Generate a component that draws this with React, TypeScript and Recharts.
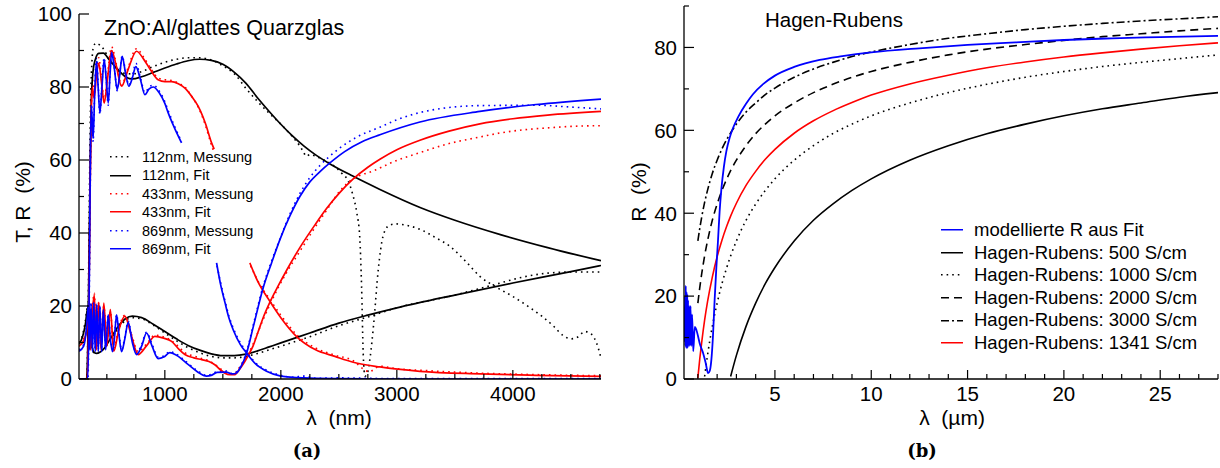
import React from 'react'
import { LineChart, Line, XAxis, YAxis } from 'recharts'

/* ─── Panel (a): T and R of ZnO:Al films, λ in nm ─── */

type Pt = [number, number]

const t112Fit: Pt[] = [[260,0],[325,0],[335,8],[345,30],[355,55],[365,75],[380,84],[400,87.5],[430,89.2],[470,89.3],[520,87.5],[600,84.6],[670,82.6],[720,82.2],[800,82.8],[900,84],[1000,85.2],[1100,86.3],[1200,87.2],[1300,87.6],[1400,87.3],[1500,86.2],[1600,84],[1700,81],[1800,77],[1900,73.3],[2000,69.8],[2100,66.6],[2200,63.8],[2300,61.4],[2420,59],[2620,55.6],[2850,52],[3200,47],[3500,43.5],[3900,39.5],[4300,36],[4760,32.4]]
const t112Meas: Pt[] = [[260,0],[325,0],[338,15],[348,45],[358,72],[370,86],[385,91],[405,92],[440,91.5],[470,90.5],[520,87.5],[580,84.8],[640,83.8],[720,83.6],[800,84.2],[900,85.6],[1000,86.8],[1100,87.6],[1200,88],[1300,88],[1400,87.4],[1500,85.8],[1600,83.6],[1700,79.6],[1800,76],[1900,72.8],[2000,69.8],[2100,66.4],[2160,64],[2190,62.5],[2220,61],[2250,61.5],[2290,61.2],[2350,60.3],[2420,59.2],[2480,57.8],[2530,56.2],[2580,54.3],[2620,50.5],[2655,45.5],[2680,39],[2696,25.4],[2710,7.1],[2725,0.8],[2745,1.5],[2770,6],[2800,15],[2840,30],[2880,39],[2930,42],[2985,42.5],[3100,42],[3200,41],[3330,38.8],[3460,36.3],[3600,32],[3716,28.1],[3850,25.3],[4000,22.6],[4150,19.5],[4250,17.2],[4350,14.5],[4430,12],[4500,11],[4560,11.5],[4620,13],[4680,12.2],[4720,10],[4760,5.8]]
const r112Fit: Pt[] = [[260,9.5],[290,11.5],[315,15],[335,19.5],[350,17],[365,11],[385,7.5],[410,7],[440,7.3],[480,8.5],[530,11],[600,14.5],[660,16.5],[720,17.2],[800,16.8],[900,15],[1000,13],[1100,11],[1200,9.2],[1300,7.9],[1400,6.9],[1500,6.4],[1600,6.4],[1700,6.8],[1800,7.7],[1900,8.8],[2000,9.9],[2250,12.6],[2500,15.3],[2750,17.5],[3000,19.5],[3500,23],[4000,26.3],[4500,29.4],[4760,31.1]]
const r112Meas: Pt[] = [[260,10],[290,12],[315,16],[335,20],[350,16],[365,10.5],[385,7.3],[410,7],[440,7.5],[480,8.5],[530,10.8],[600,14],[660,16],[720,16.8],[800,16.5],[900,14.8],[1000,12.6],[1100,10.5],[1200,8.6],[1300,7.2],[1400,6.2],[1500,5.8],[1600,5.8],[1700,6.2],[1800,7],[1900,8],[2000,9],[2250,11.6],[2500,14.6],[2750,17],[3000,19.5],[3500,23],[3800,25.5],[4100,28],[4300,29],[4500,29.3],[4760,29.3]]

const t433Fit: Pt[] = [[260,0],[330,0],[345,20],[355,50],[365,72],[375,80],[390,77],[410,83],[430,86.5],[455,81],[477,75.6],[505,82],[541,90],[580,86],[627,80.2],[680,84.5],[756,89.8],[820,87.5],[880,84.5],[942,82],[1000,81.5],[1058,81.5],[1120,80.8],[1173,79.7],[1230,77.5],[1288,74.7],[1350,70],[1403,64.7],[1425,63]]
const t433Meas: Pt[] = [[260,0],[332,0],[346,22],[356,52],[366,74],[376,82],[390,78],[410,84],[430,88],[455,82],[477,76],[505,83],[541,91],[580,86.5],[627,80.5],[680,85],[756,90.5],[820,88],[880,85],[942,82.5],[1000,82],[1058,81.8],[1120,81],[1173,80],[1230,77.5],[1288,74.5],[1350,69.5],[1403,64],[1425,62]]
const t433FitB: Pt[] = [[1733,31.8],[1800,26.8],[1905,21.3],[2000,16.8],[2140,11.5],[2300,8],[2466,6.2],[2624,4.6],[2854,3.3],[3199,2.1],[3716,1.4],[4200,1],[4760,0.7]]
const t433MeasB: Pt[] = [[1740,31],[1800,27],[1905,21.8],[2000,17.5],[2140,12],[2300,8.5],[2466,6.5],[2624,5],[2700,3],[2760,2],[2854,3.5],[3000,2.8],[3199,2.4],[3716,1.6],[4200,1.2],[4760,0.9]]
const r433Fit: Pt[] = [[260,9],[300,10.5],[330,14],[345,20],[360,8],[375,18],[392,23],[410,8],[430,21],[450,8],[474,20.8],[500,9],[530,19],[560,7.6],[600,13],[655,17.2],[710,12],[770,6.7],[840,9],[914,11.7],[990,11.2],[1058,10.3],[1120,8.2],[1173,6.7],[1250,5.8],[1317,5.3],[1380,4.8],[1431,3.9],[1480,2.5],[1518,1.6],[1560,1.2],[1604,1.2],[1640,2.5],[1680,4.3],[1719,6.5],[1760,9],[1805,13],[1850,17],[1905,21],[1977,25.5],[2050,29.8],[2164,36],[2300,42.5],[2394,46.7],[2500,50.8],[2624,54.8],[2750,58],[2854,60.2],[3000,62.8],[3199,65.4],[3450,67.9],[3716,69.9],[4000,71.3],[4300,72.3],[4760,73.3]]
const r433Meas: Pt[] = [[260,10],[300,11],[330,15],[345,21],[360,9],[375,19],[392,23.5],[410,9],[430,21],[450,9],[474,20],[500,10],[530,18.5],[560,8.5],[600,13.5],[655,17.5],[710,12.5],[770,7.5],[840,9.5],[914,12],[990,11.5],[1058,10.5],[1120,8.8],[1173,7.2],[1250,6.3],[1317,5.6],[1380,5],[1431,4],[1480,2.8],[1518,2],[1560,1.4],[1604,1.5],[1640,3],[1680,5],[1719,7],[1760,9.5],[1805,13],[1850,16.5],[1905,20.3],[1977,25],[2050,29.2],[2164,35],[2300,41.8],[2394,46.2],[2509,51.5],[2621,54.8],[2700,56],[2760,56.6],[2820,57.3],[2880,58.2],[2969,59.5],[3199,62],[3450,64.5],[3716,66.3],[3888,67.4],[4100,68.3],[4300,68.8],[4500,69.2],[4760,69.4]]

const t869Fit: Pt[] = [[260,0],[335,0],[345,15],[355,50],[365,75],[375,70],[382,66],[395,78],[411,87],[425,80],[440,73],[458,80],[477,87.5],[495,82],[512,75.6],[527,83],[541,89.5],[565,85],[589,79.3],[610,83],[632,88.4],[660,84],[690,80.2],[720,82.5],[750,85.6],[790,82],[828,77.9],[865,79.5],[900,80],[950,78.5],[1000,75.5],[1029,72.9],[1080,69],[1144,64.7]]
const t869Meas: Pt[] = [[260,0],[337,0],[347,18],[357,52],[366,76],[375,71],[382,65],[395,79],[411,88],[425,81],[440,72.5],[458,81],[477,88],[495,82],[512,75],[527,83.5],[541,90],[565,85.5],[589,79],[610,83.5],[632,88.5],[660,84.5],[690,80.5],[720,83],[750,86.5],[790,82.5],[828,78.5],[865,80],[900,80.5],[950,79],[1000,76],[1029,73.5],[1080,69.5],[1144,65]]
const t869FitB: Pt[] = [[1446,31.8],[1480,26],[1518,21],[1550,17],[1589,13.5],[1650,9.5],[1705,7.1],[1780,4.2],[1877,2.1],[2000,0.8],[2200,0.3],[2500,0.1],[3000,0],[4760,0]]
const t869MeasB: Pt[] = [[1450,31],[1480,26.5],[1518,21.5],[1550,17.5],[1589,14],[1650,10],[1705,7.5],[1780,4.5],[1877,2.4],[2000,1],[2100,0.5],[2200,0.8],[2300,0.2],[2500,0.3],[3000,0.1],[4760,0.1]]
const r869Fit: Pt[] = [[260,7.6],[300,9],[325,14],[340,20],[352,8],[364,20.5],[376,7.5],[388,21],[400,7.5],[413,20.5],[426,7.5],[440,20],[455,7.5],[470,19],[490,8],[512,17.6],[530,11],[549,7.5],[565,11],[584,17.6],[605,12],[627,7.5],[655,11],[684,15.5],[720,10],[756,6.7],[800,9],[842,12.6],[890,9],[942,5.6],[990,6],[1043,7.2],[1100,6.5],[1200,4],[1280,2],[1360,0.8],[1400,1],[1450,1.8],[1530,1.9],[1580,1.4],[1610,1.5],[1650,3],[1705,7.1],[1760,14],[1848,25],[1920,31.8],[1992,38.2],[2080,44.8],[2164,50],[2250,54],[2340,56.9],[2423,59.2],[2550,62.3],[2700,65],[2854,66.9],[3199,70.4],[3716,73.3],[4200,75.2],[4760,76.7]]
const r869Meas: Pt[] = [[260,8],[300,9.5],[325,15],[340,21],[352,9],[364,21],[376,8],[388,21.5],[400,8],[413,20.5],[426,8],[440,20],[455,8],[470,19],[490,8.5],[512,17.8],[530,11.5],[549,8],[565,11.5],[584,17.6],[605,12.5],[627,8],[655,11.5],[684,15.8],[720,10.5],[756,7],[800,9.5],[842,12.8],[890,9.5],[942,6],[990,6.3],[1043,7.5],[1100,6.8],[1200,4.3],[1280,2.3],[1360,1],[1400,1.3],[1450,2],[1530,2.2],[1580,1.5],[1610,1.8],[1650,3.3],[1705,7.5],[1760,14.5],[1848,25.5],[1920,32.3],[2000,39],[2080,45.3],[2164,50.8],[2250,55.2],[2340,58.6],[2420,61],[2509,63.3],[2650,66.2],[2854,69],[3000,71],[3285,73.6],[3716,74.9],[4200,75],[4500,74.5],[4760,74]]

const aXTicks = [500,750,1000,1250,1500,1750,2000,2250,2500,2750,3000,3250,3500,3750,4000,4250,4500,4750]
const aXMajor = [1000,2000,3000,4000]
const aYTicks = [0,10,20,30,40,50,60,70,80,90,100]
const aYMajor = [0,20,40,60,80,100]

/* ─── Panel (b): Hagen-Rubens, λ in µm ─── */

const bModel: Pt[] = [[0.3,9],[0.33,20],[0.35,8],[0.37,22.5],[0.39,7.5],[0.41,21],[0.43,7.5],[0.45,20.5],[0.47,7.5],[0.49,19],[0.51,8],[0.55,17.6],[0.58,8],[0.62,17.6],[0.66,8],[0.7,15.5],[0.76,6.7],[0.84,12.6],[0.92,11.9],[1,10.5],[1.1,8.5],[1.27,6.3],[1.4,4],[1.53,1.4],[1.62,2],[1.7,4.6],[1.78,10],[1.87,19.1],[1.96,27],[2.04,33],[2.13,40.5],[2.22,45.8],[2.35,51.2],[2.48,55],[2.65,58.2],[2.82,60.5],[3.1,63.3],[3.5,66.4],[3.86,68.7],[4.4,71.2],[5,73.2],[6,75.3],[7.32,77],[8.5,77.9],[10,78.8],[12.5,79.8],[15,80.6],[17.5,81.2],[20,81.8],[22.5,82.2],[25,82.5],[28,82.8]]
const hr500: Pt[] = [[2.7,0.6],[3,5.7],[3.5,12.7],[4,18.3],[4.5,23],[5,26.9],[6,33.3],[7,38.3],[8,42.2],[9,45.5],[10,48.3],[12,52.8],[14,56.3],[16,59.2],[18,61.5],[20,63.5],[22,65.2],[24,66.6],[26,68],[28,69.1]]
const hr1000: Pt[] = [[1.35,0.6],[1.5,5.7],[1.75,12.7],[2,18.3],[2.25,23],[2.5,26.9],[2.7,29.7],[3,33.3],[3.5,38.3],[4,42.2],[4.5,45.5],[5,48.3],[6,52.8],[7,56.3],[8,59.2],[9,61.5],[10,63.5],[12,66.6],[14,69.1],[16,71.1],[18,72.8],[20,74.2],[22,75.4],[24,76.4],[26,77.3],[28,78.2]]
const hr2000: Pt[] = [[1,18.3],[1.1,22.1],[1.2,25.4],[1.35,29.7],[1.5,33.3],[1.75,38.3],[2,42.2],[2.25,45.5],[2.5,48.3],[2.7,50.3],[3,52.8],[3.5,56.3],[4,59.2],[4.5,61.5],[5,63.5],[6,66.6],[7,69.1],[8,71.1],[9,72.8],[10,74.2],[12,76.4],[14,78.2],[16,79.6],[18,80.7],[20,81.7],[22,82.6],[24,83.3],[26,84],[28,84.6]]
const hr3000: Pt[] = [[1,33.3],[1.1,36.4],[1.2,39.1],[1.35,42.6],[1.5,45.5],[1.75,49.6],[2,52.8],[2.25,55.5],[2.5,57.8],[2.7,59.4],[3,61.5],[3.5,64.4],[4,66.6],[4.5,68.6],[5,70.2],[6,72.8],[7,74.8],[8,76.4],[9,77.8],[10,78.9],[12,80.7],[14,82.2],[16,83.3],[18,84.3],[20,85.1],[22,85.8],[24,86.4],[26,86.9],[28,87.4]]
const hr1341: Pt[] = [[1,0.25],[1.1,4.9],[1.2,8.9],[1.35,14.2],[1.5,18.6],[1.75,24.6],[2,29.5],[2.25,33.5],[2.5,36.9],[2.7,39.3],[3,42.4],[3.5,46.7],[4,50.1],[4.5,53],[5,55.4],[6,59.3],[7,62.3],[8,64.7],[9,66.7],[10,68.5],[12,71.2],[14,73.3],[16,75.1],[18,76.5],[20,77.7],[22,78.7],[24,79.6],[26,80.4],[28,81.1]]

const bXTicks = [1,2,3,4,5,6,7,8,9,10,11,12,13,14,15,16,17,18,19,20,21,22,23,24,25,26,27,28]
const bXMajor = [5,10,15,20,25]
const bYTicks = [0,10,20,30,40,50,60,70,80,90]
const bYMajor = [0,20,40,60,80]

/* ─── Helpers ─── */

const FONT = '"Liberation Sans", Arial, Helvetica, sans-serif'
const toRows = (pts: Pt[]) => pts.map(([x, y]) => ({ x, y }))
const DOT = '1.6 4'

function xTick(majors: number[]) {
  return (props: any) => {
    const { x, y, payload } = props
    const major = majors.includes(payload.value)
    return (
      <g>
        <line x1={x} x2={x} y1={y} y2={y - (major ? 9 : 5)} stroke="#000" strokeWidth={1.2} />
        {major && (
          <text x={x} y={y + 22} textAnchor="middle" fontSize={20.5} fontFamily={FONT} fill="#000">
            {payload.value}
          </text>
        )}
      </g>
    )
  }
}

function yTick(majors: number[]) {
  return (props: any) => {
    const { x, y, payload } = props
    const major = majors.includes(payload.value)
    return (
      <g>
        <line x1={x} x2={x + (major ? 10 : 5)} y1={y} y2={y} stroke="#000" strokeWidth={1.2} />
        {major && (
          <text x={x - 7} y={y + 7.3} textAnchor="end" fontSize={20.5} fontFamily={FONT} fill="#000">
            {payload.value}
          </text>
        )}
      </g>
    )
  }
}

function series(pts: Pt[], color: string, dash?: string, width = 1.7) {
  return (
    <Line
      data={toRows(pts)}
      dataKey="y"
      type="monotone"
      stroke={color}
      strokeWidth={width}
      strokeDasharray={dash}
      dot={false}
      activeDot={false}
      isAnimationActive={false}
    />
  )
}

function Sample({ color, dash, width = 22 }: { color: string; dash?: string; width?: number }) {
  return (
    <svg width={width} height={6} style={{ display: 'block' }}>
      <line x1={0} x2={width} y1={3} y2={3} stroke={color} strokeWidth={1.7} strokeDasharray={dash} />
    </svg>
  )
}

const abs = (left: number, top: number, extra: React.CSSProperties = {}): React.CSSProperties => ({
  position: 'absolute',
  left,
  top,
  fontFamily: FONT,
  color: '#000',
  whiteSpace: 'pre',
  lineHeight: 1,
  ...extra,
})

const legendA = [
  { label: '112nm, Messung', color: '#000', dash: DOT },
  { label: '112nm, Fit', color: '#000' },
  { label: '433nm, Messung', color: '#f00', dash: DOT },
  { label: '433nm, Fit', color: '#f00' },
  { label: '869nm, Messung', color: '#00f', dash: DOT },
  { label: '869nm, Fit', color: '#00f' },
]

const legendB = [
  { label: 'modellierte R aus Fit', color: '#00f' },
  { label: 'Hagen-Rubens: 500 S/cm', color: '#000' },
  { label: 'Hagen-Rubens: 1000 S/cm', color: '#000', dash: '1.6 4' },
  { label: 'Hagen-Rubens: 2000 S/cm', color: '#000', dash: '8 5' },
  { label: 'Hagen-Rubens: 3000 S/cm', color: '#000', dash: '8 3 2 3' },
  { label: 'Hagen-Rubens: 1341 S/cm', color: '#f00' },
]

/* ─── Main component ─── */

export default function App() {
  const axisStroke = { stroke: '#000', strokeWidth: 1.3 }

  return (
    <div style={{ position: 'absolute', left: 0, top: 0, width: 1220, height: 468, background: '#fff', overflow: 'hidden' }}>
      {/* Panel (a) */}
      <div style={{ position: 'absolute', left: 0, top: 0 }}>
        <LineChart width={610} height={468} margin={{ top: 14, right: 9, bottom: 0, left: 0 }}>
          <XAxis
            dataKey="x"
            type="number"
            domain={[260, 4760]}
            allowDataOverflow
            ticks={aXTicks}
            interval={0}
            tickSize={0}
            tickMargin={0}
            height={89}
            axisLine={axisStroke}
            tickLine={false}
            tick={xTick(aXMajor)}
          />
          <YAxis
            type="number"
            domain={[0, 100]}
            allowDataOverflow
            ticks={aYTicks}
            interval={0}
            tickSize={0}
            tickMargin={0}
            width={79}
            axisLine={axisStroke}
            tickLine={false}
            tick={yTick(aYMajor)}
          />
          {series(t112Meas, '#000', DOT, 1.6)}
          {series(r112Meas, '#000', DOT, 1.6)}
          {series(t433Meas, '#f00', DOT, 1.6)}
          {series(t433MeasB, '#f00', DOT, 1.6)}
          {series(r433Meas, '#f00', DOT, 1.6)}
          {series(t869Meas, '#00f', DOT, 1.6)}
          {series(t869MeasB, '#00f', DOT, 1.6)}
          {series(r869Meas, '#00f', DOT, 1.6)}
          {series(t112Fit, '#000')}
          {series(r112Fit, '#000')}
          {series(t433Fit, '#f00')}
          {series(t433FitB, '#f00')}
          {series(r433Fit, '#f00')}
          {series(t869Fit, '#00f')}
          {series(t869FitB, '#00f')}
          {series(r869Fit, '#00f')}
        </LineChart>
      </div>

      {/* Panel (b) */}
      <div style={{ position: 'absolute', left: 610, top: 0 }}>
        <LineChart width={610} height={468} margin={{ top: 6, right: 2, bottom: 0, left: 0 }}>
          <XAxis
            dataKey="x"
            type="number"
            domain={[0.28, 28]}
            allowDataOverflow
            ticks={bXTicks}
            interval={0}
            tickSize={0}
            tickMargin={0}
            height={89}
            axisLine={axisStroke}
            tickLine={false}
            tick={xTick(bXMajor)}
          />
          <YAxis
            type="number"
            domain={[0, 90]}
            allowDataOverflow
            ticks={bYTicks}
            interval={0}
            tickSize={0}
            tickMargin={0}
            width={74}
            axisLine={axisStroke}
            tickLine={false}
            tick={yTick(bYMajor)}
          />
          {series(hr500, '#000', undefined, 1.6)}
          {series(hr1000, '#000', '1.6 4', 1.6)}
          {series(hr2000, '#000', '8 5', 1.6)}
          {series(hr3000, '#000', '8 3 2 3', 1.6)}
          {series(hr1341, '#f00', undefined, 1.6)}
          {series(bModel, '#00f', undefined, 1.8)}
        </LineChart>
      </div>

      {/* Titles, axis labels, panel labels */}
      <div style={abs(104, 18, { fontSize: 21.5 })}>ZnO:Al/glattes Quarzglas</div>
      <div style={abs(765, 10, { fontSize: 20.5 })}>Hagen-Rubens</div>

      <div style={abs(22, 202, { fontSize: 21, transform: 'translate(-50%, -50%) rotate(-90deg)' })}>T, R  (%)</div>
      <div style={abs(638, 192, { fontSize: 21, transform: 'translate(-50%, -50%) rotate(-90deg)' })}>R  (%)</div>
      <div style={abs(339, 417, { fontSize: 21, transform: 'translate(-50%, -50%)' })}>λ  (nm)</div>
      <div style={abs(952, 417, { fontSize: 21, transform: 'translate(-50%, -50%)' })}>λ  (µm)</div>
      <div style={abs(307, 451, { fontSize: 18, fontWeight: 'bold', fontFamily: '"DejaVu Serif", "Liberation Serif", serif', transform: 'translate(-50%, -50%)' })}>(a)</div>
      <div style={abs(922, 451, { fontSize: 18, fontWeight: 'bold', fontFamily: '"DejaVu Serif", "Liberation Serif", serif', transform: 'translate(-50%, -50%)' })}>(b)</div>

      {/* Legend (a) */}
      {legendA.map((e, i) => (
        <div key={e.label} style={abs(110, 157 + i * 18.4, { display: 'flex', alignItems: 'center', transform: 'translateY(-50%)', fontSize: 14.5 })}>
          <Sample color={e.color} dash={e.dash} width={21} />
          <span style={{ marginLeft: 11 }}>{e.label}</span>
        </div>
      ))}

      {/* Legend (b) */}
      {legendB.map((e, i) => (
        <div key={e.label} style={abs(941, 230 + i * 22.6, { display: 'flex', alignItems: 'center', transform: 'translateY(-50%)', fontSize: 18.5 })}>
          <Sample color={e.color} dash={e.dash} width={22} />
          <span style={{ marginLeft: 11 }}>{e.label}</span>
        </div>
      ))}
    </div>
  )
}
